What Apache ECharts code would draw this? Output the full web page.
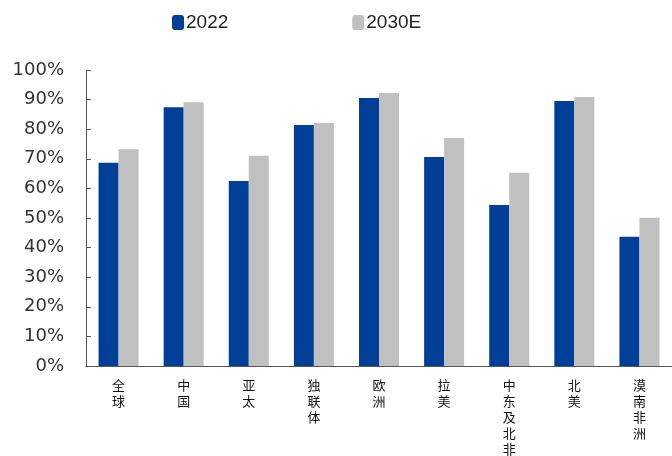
<!DOCTYPE html>
<html>
<head>
<meta charset="utf-8">
<script src="https://cdn.jsdelivr.net/npm/echarts@6/dist/echarts.min.js"></script>
<style>
  html, body { margin: 0; padding: 0; background: #fff; }
  #chart { width: 672px; height: 456px; }
</style>
</head>
<body>
<div id="chart"></div>
<script>
// 地区分类
const regions = ['全球', '中国', '亚太', '独联体', '欧洲', '拉美', '中东及北非', '北美', '漠南非洲']
// 各系列数值（%）
const values2022 = [68.7, 87.4, 62.5, 81.4, 90.5, 70.6, 54.4, 89.5, 43.7]
const values2030E = [73.2, 89.1, 71.0, 82.1, 92.2, 77.0, 65.3, 90.9, 50.1]
const seriesNames = ['2022', '2030E']
const colors = ['#003f98', '#c0c0c0']

const chart = echarts.init(document.getElementById('chart'))
const option = {
  animation: false,
  legend: {
    top: 8,
    left: 167,
    itemWidth: 12,
    itemHeight: 15,
    itemGap: 124,
    icon: 'roundRect',
    textStyle: {
      fontFamily: 'Liberation Sans',
      fontSize: 19,
      color: '#222',
      padding: [0, 0, 0, -3]
    },
    data: seriesNames
  },
  grid: {
    left: 86,
    right: 0,
    top: 70,
    bottom: 90,
    outerBoundsMode: 'none'
  },
  xAxis: {
    type: 'category',
    data: regions,
    axisLine: { lineStyle: { color: '#555', width: 1 } },
    axisTick: { inside: true, length: 5, lineStyle: { color: '#555' } },
    axisLabel: {
      interval: 0,
      margin: 11,
      fontFamily: 'Noto Sans CJK SC',
      fontSize: 13,
      lineHeight: 16,
      color: '#111',
      verticalAlign: 'top',
      formatter: (v) => v.split('').join('\n')
    }
  },
  yAxis: {
    type: 'value',
    min: 0,
    max: 100,
    interval: 10,
    axisLine: { show: true, lineStyle: { color: '#555', width: 1 } },
    axisTick: { show: true, inside: true, length: 5, lineStyle: { color: '#555' } },
    splitLine: { show: false },
    axisLabel: {
      margin: 22,
      fontFamily: 'DejaVu Sans',
      fontSize: 18,
      color: '#333',
      formatter: '{value}%'
    }
  },
  series: [
    {
      name: seriesNames[0],
      type: 'bar',
      data: values2022,
      barWidth: 20,
      barGap: '0%',
      itemStyle: { color: colors[0] }
    },
    {
      name: seriesNames[1],
      type: 'bar',
      data: values2030E,
      barWidth: 20,
      barGap: '0%',
      itemStyle: { color: colors[1] }
    }
  ]
}
chart.setOption(option)
</script>
</body>
</html>
